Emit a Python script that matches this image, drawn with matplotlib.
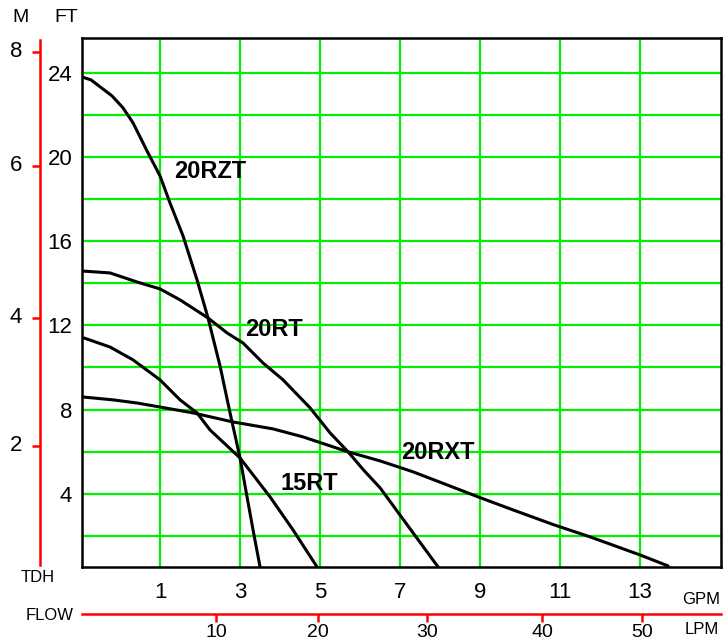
import matplotlib
matplotlib.use("Agg")
import matplotlib.pyplot as plt

plt.rcParams['font.family'] = ['Liberation Sans', 'DejaVu Sans']

# ---- data (flow in GPM, head in FT) ----
rzt_gpm = [-0.95, -0.725, -0.2, 0.075, 0.325, 0.7, 1.0, 1.25, 1.575, 1.925, 2.2, 2.5, 2.75, 3.0, 3.175, 3.325, 3.5]
rzt_ft = [23.8, 23.66, 22.9, 22.33, 21.62, 20.19, 19.1, 17.81, 16.25, 14.16, 12.35, 10.07, 7.84, 5.7, 3.85, 2.28, 0.52]

rt_gpm = [-0.95, -0.25, 0.425, 1.0, 1.5, 2.2, 2.675, 3.075, 3.575, 4.075, 4.75, 5.25, 5.7, 6.1, 6.5, 7.325, 7.95]
rt_ft = [14.58, 14.49, 14.06, 13.73, 13.21, 12.35, 11.64, 11.16, 10.21, 9.41, 8.08, 6.89, 5.99, 5.1, 4.28, 2.14, 0.52]

r15_gpm = [-0.9, -0.25, 0.325, 1.0, 1.5, 1.925, 2.25, 3.0, 3.75, 4.325, 4.925]
r15_ft = [11.4, 10.97, 10.36, 9.41, 8.46, 7.84, 7.03, 5.7, 3.85, 2.28, 0.52]

rxt_gpm = [-0.95, -0.175, 0.425, 1.0, 1.825, 2.825, 3.825, 4.575, 5.7, 6.5, 7.325, 8.175, 8.95, 9.825, 10.85, 11.75, 13.0, 13.7]
rxt_ft = [8.6, 8.46, 8.31, 8.12, 7.84, 7.41, 7.08, 6.7, 5.99, 5.56, 5.04, 4.42, 3.85, 3.23, 2.52, 1.95, 1.09, 0.57]

series_names = ['20RZT', '20RT', '15RT', '20RXT']
label_gpm = [1.35, 3.125, 4.0, 7.025]
label_ft = [19.33, 11.78, 4.51, 5.94]

gpm_ticks = [1, 3, 5, 7, 9, 11, 13]
ft_ticks = [4, 8, 12, 16, 20, 24]
ft_grid = [2, 6, 10, 14, 18, 22]
m_labels = ['2', '4', '6', '8']
m_tick_pos_ft = [6.27, 12.35, 19.57, 24.99]
lpm_labels = ['10', '20', '30', '40', '50']
lpm_tick_pos_gpm = [2.4, 4.95, 7.675, 10.55, 13.05]

W, H = 723, 641
fig = plt.figure(figsize=(W / 100, H / 100), dpi=100)
L, R, T, B = 82, 721, 38, 567
ax = fig.add_axes([L / W, 1 - B / H, (R - L) / W, (B - T) / H])
ax.set_xlim(-0.95, 15.02)
ax.set_ylim(0.52, 25.65)

green = '#00f000'
red = '#ff0000'

ax.set_xticks(gpm_ticks)
ax.set_xticklabels([str(v) for v in gpm_ticks], fontsize=16)
ax.set_yticks(ft_ticks)
ax.set_yticklabels([str(v) for v in ft_ticks], fontsize=16, va='center_baseline')
ax.set_yticks(ft_grid, minor=True)
ax.tick_params(axis='x', length=0, pad=11)
ax.tick_params(axis='y', which='both', length=0, pad=7)
ax.grid(True, which='both', color=green, lw=1.6, zorder=0)
ax.set_axisbelow(True)
for s in ax.spines.values():
    s.set_linewidth(1.8)
    s.set_color('black')

for xs, ys in [(rzt_gpm, rzt_ft), (rt_gpm, rt_ft), (r15_gpm, r15_ft), (rxt_gpm, rxt_ft)]:
    ax.plot(xs, ys, color='black', lw=2.2, solid_capstyle='round', solid_joinstyle='round', zorder=3)

for name, x, y in zip(series_names, label_gpm, label_ft):
    ax.text(x, y, name, fontsize=17, fontweight='bold', ha='left', va='center', zorder=4)

# ---- metres axis (red) ----
axm = ax.twinx()
axm.set_ylim(ax.get_ylim())
axm.spines['left'].set_position(('axes', (40 - L) / (R - L)))
axm.spines['left'].set_color(red)
axm.spines['left'].set_linewidth(1.8)
axm.spines['left'].set_bounds(0.62, 25.56)
for k in ['right', 'top', 'bottom']:
    axm.spines[k].set_visible(False)
axm.yaxis.set_ticks_position('left')
axm.yaxis.set_label_position('left')
axm.set_yticks(m_tick_pos_ft)
axm.set_yticklabels(m_labels, fontsize=16, va='center')
axm.tick_params(axis='y', colors=red, labelcolor='black', length=6, width=1.8, direction='out', pad=7)

# ---- LPM axis (red) ----
axl = ax.twiny()
axl.set_xlim(ax.get_xlim())
axl.xaxis.set_ticks_position('bottom')
axl.xaxis.set_label_position('bottom')
axl.spines['bottom'].set_position(('axes', -(614 - B) / (B - T)))
axl.spines['bottom'].set_color(red)
axl.spines['bottom'].set_linewidth(1.8)
for k in ['left', 'right', 'top']:
    axl.spines[k].set_visible(False)
axl.set_xticks(lpm_tick_pos_gpm)
axl.set_xticklabels(lpm_labels, fontsize=14)
axl.tick_params(axis='x', colors=red, labelcolor='black', length=6, width=1.8, direction='out', pad=1)

# ---- axis titles ----
def ftxt(x, y, s, size=13, ha='center'):
    fig.text(x / W, 1 - y / H, s, fontsize=size, ha=ha, va='center')

ftxt(21, 17, 'M', 14)
ftxt(66, 17, 'FT', 14)
ftxt(38, 577, 'TDH', 12)
ftxt(50, 615, 'FLOW', 12)
ftxt(701, 599, 'GPM', 12)
ftxt(702, 630, 'LPM', 12)

fig.savefig('out.png', dpi=100)
